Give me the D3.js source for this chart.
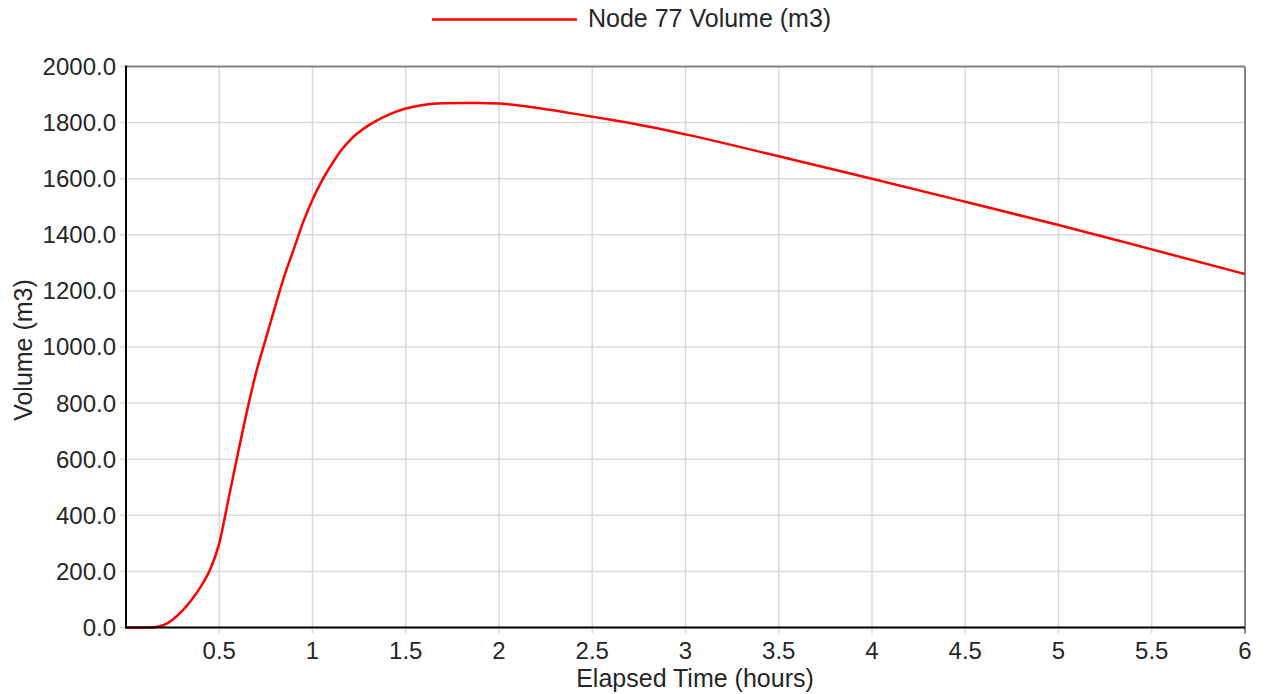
<!DOCTYPE html>
<html>
<head>
<meta charset="utf-8">
<script src="https://cdn.jsdelivr.net/npm/d3@7"></script>
<style>
  body { margin: 0; background: #fff; }
  text { font-family: "Liberation Sans", Arial, sans-serif; fill: #262626; }
</style>
</head>
<body>
<svg id="chart" width="1269" height="694"></svg>
<script>
// elapsed time (hours) and node volume (m3)
const hours = [0, 0.1, 0.15, 0.2, 0.25, 0.3, 0.35, 0.4, 0.45, 0.5,
    0.55, 0.6, 0.65, 0.7, 0.75, 0.8, 0.85, 0.9, 0.95, 1.0,
    1.05, 1.1, 1.15, 1.2, 1.3, 1.4, 1.5, 1.6, 1.7, 1.8,
    1.9, 2.0, 2.2, 2.4, 2.6, 2.8, 3.0, 3.5, 4.0, 4.5,
    5.0, 5.5, 6.0];
const volume = [0, 0, 1, 8, 28, 58, 97, 145, 205, 300,
    460, 620, 775, 915, 1030, 1145, 1255, 1350, 1445, 1525,
    1592, 1648, 1698, 1737, 1790, 1826, 1850, 1864, 1869, 1870,
    1870, 1868, 1853, 1832, 1810, 1786, 1758, 1680, 1600, 1518,
    1435, 1348, 1260];
const xTicks = [0.5, 1, 1.5, 2, 2.5, 3, 3.5, 4, 4.5, 5, 5.5, 6];
const yTicks = [0, 200, 400, 600, 800, 1000, 1200, 1400, 1600, 1800, 2000];
const seriesName = "Node 77 Volume (m3)";

const margin = {top: 66.5, right: 24, bottom: 66.5, left: 126};
const width = 1269, height = 694;
const svg = d3.select("#chart");

const x = d3.scaleLinear().domain([0, 6]).range([margin.left, width - margin.right]);
const y = d3.scaleLinear().domain([0, 2000]).range([height - margin.bottom, margin.top]);

// grid
svg.append("g")
    .selectAll("line")
    .data(xTicks)
    .join("line")
    .attr("x1", d => x(d)).attr("x2", d => x(d))
    .attr("y1", y(2000)).attr("y2", y(0) + 6)
    .attr("stroke", "#dadada")
    .attr("stroke-width", 1.5);

svg.append("g")
    .selectAll("line")
    .data(yTicks)
    .join("line")
    .attr("x1", x(0) - 6).attr("x2", x(6))
    .attr("y1", d => y(d)).attr("y2", d => y(d))
    .attr("stroke", "#dadada")
    .attr("stroke-width", 1.5);

// frame: top/right gray, left/bottom black
svg.append("line")
    .attr("x1", x(0)).attr("x2", x(6))
    .attr("y1", y(2000)).attr("y2", y(2000))
    .attr("stroke", "#858585").attr("stroke-width", 2);
svg.append("line")
    .attr("x1", x(6)).attr("x2", x(6))
    .attr("y1", y(2000)).attr("y2", y(0) + 6)
    .attr("stroke", "#858585").attr("stroke-width", 2);

// series
const line = d3.line()
    .x((d, i) => x(hours[i]))
    .y(d => y(d))
    .curve(d3.curveMonotoneX);

svg.append("path")
    .datum(volume)
    .attr("d", line)
    .attr("fill", "none")
    .attr("stroke", "#ff0000")
    .attr("stroke-width", 2.5);

svg.append("line")
    .attr("x1", x(0)).attr("x2", x(0))
    .attr("y1", y(2000) - 1).attr("y2", y(0) + 1)
    .attr("stroke", "#000").attr("stroke-width", 2);
svg.append("line")
    .attr("x1", x(0) - 1).attr("x2", x(6))
    .attr("y1", y(0)).attr("y2", y(0))
    .attr("stroke", "#000").attr("stroke-width", 2);

// tick labels
svg.append("g")
    .selectAll("text")
    .data(yTicks)
    .join("text")
    .attr("x", x(0) - 10)
    .attr("y", d => y(d))
    .attr("dy", "0.35em")
    .attr("text-anchor", "end")
    .attr("font-size", 24)
    .text(d3.format(".1f"));

svg.append("g")
    .selectAll("text")
    .data(xTicks)
    .join("text")
    .attr("x", d => x(d))
    .attr("y", y(0) + 31.5)
    .attr("text-anchor", "middle")
    .attr("font-size", 24)
    .text(d => d);

// axis titles
svg.append("text")
    .attr("x", 695)
    .attr("y", 686.5)
    .attr("text-anchor", "middle")
    .attr("font-size", 25)
    .text("Elapsed Time (hours)");

svg.append("text")
    .attr("transform", "translate(31.5, 350) rotate(-90)")
    .attr("text-anchor", "middle")
    .attr("font-size", 25)
    .text("Volume (m3)");

// legend
const legend = svg.append("g");
legend.append("line")
    .attr("x1", 432).attr("x2", 577)
    .attr("y1", 19.5).attr("y2", 19.5)
    .attr("stroke", "#ff0000").attr("stroke-width", 2.5);
legend.append("text")
    .attr("x", 588)
    .attr("y", 27)
    .attr("font-size", 25)
    .text(seriesName);
</script>
</body>
</html>
